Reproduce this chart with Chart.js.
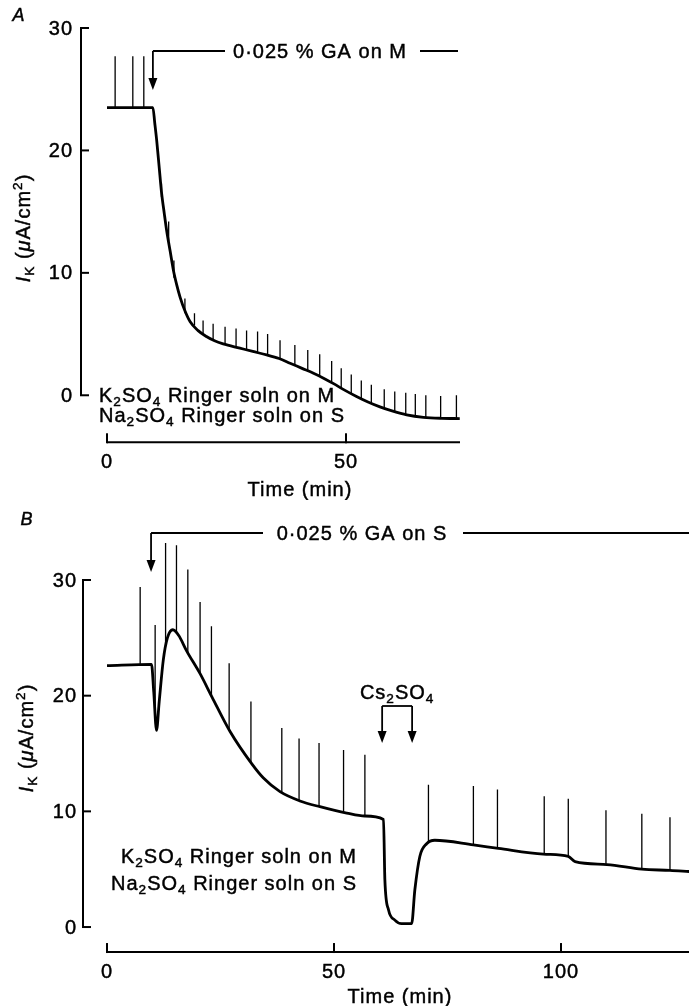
<!DOCTYPE html>
<html>
<head>
<meta charset="utf-8">
<script src="https://cdn.jsdelivr.net/npm/chart.js@4.4.1/dist/chart.umd.min.js"></script>
<style>
  html, body { margin: 0; padding: 0; background: #fff; overflow: hidden; }
  #wrap { position: relative; width: 689px; height: 1006px; }
  canvas { position: absolute; left: 0; }
  #chartA { top: 0; }
  #chartB { top: 500px; }
</style>
</head>
<body>
<div id="wrap">
  <canvas id="chartA" width="689" height="500"></canvas>
  <canvas id="chartB" width="689" height="506"></canvas>
</div>
<script>
// Panel A: GA on the mucosal side, K current trace (min, uA/cm2)
const timeA = [0, 9.6, 10.0, 10.4, 10.9, 11.4, 12.0, 12.5, 13.2, 13.9, 14.6, 15.3, 16.3, 17.4, 19.0, 20.8, 22.5, 24.3, 27.8, 30.5, 33.4, 36.0, 38.3, 40.8, 43.2, 45.3, 47.4, 49.8, 52.2, 54.6, 57.1, 59.8, 62.7, 66.2, 70.0, 73.8];
const currentA = [23.5, 23.5, 22.2, 20.8, 18.7, 16.6, 14.8, 13.4, 11.8, 10.2, 9.0, 8.0, 6.9, 6.0, 5.3, 4.8, 4.45, 4.2, 3.85, 3.58, 3.3, 3.0, 2.62, 2.2, 1.8, 1.4, 0.95, 0.4, -0.1, -0.55, -0.95, -1.3, -1.6, -1.8, -1.88, -1.9];
// pulse deflections on the trace
const spikeTimeA = [1.7, 5.4, 7.7, 11.4, 12.9, 14.0, 16.3, 18.3, 20.1, 22.2, 24.7, 27.0, 29.2, 31.5, 33.6, 36.2, 39.3, 42.0, 44.5, 47.0, 49.0, 51.1, 53.2, 55.3, 58.0, 60.2, 62.5, 64.5, 66.7, 69.8, 73.1];
const spikeTopA = [27.7, 27.7, 27.7, 17.3, 14.2, 11.0, 7.9, 6.7, 6.1, 5.85, 5.6, 5.45, 5.3, 5.2, 5.0, 4.5, 4.1, 3.7, 3.35, 2.8, 2.2, 1.7, 1.2, 0.85, 0.5, 0.3, 0.2, 0.1, 0.0, -0.05, 0.0];
const spikeBaseA = [23.5, 23.5, 23.5, 16.2, 12.6, 9.6, 6.7, 5.7, 5.0, 4.55, 4.2, 3.9, 3.7, 3.5, 3.3, 3.0, 2.5, 2.0, 1.6, 1.0, 0.55, 0.15, -0.25, -0.65, -1.1, -1.4, -1.6, -1.72, -1.8, -1.87, -1.9];
const yTicksA = [0, 10, 20, 30];
const xTicksA = [0, 50];
const gaTimeA = 9.6;

// Panel B: GA on the serosal side, Cs2SO4 pulse
const timeB = [0, 9.8, 10.3, 10.9, 11.5, 12.4, 13.3, 14.5, 15.8, 17.5, 20.5, 23.1, 27.1, 31.9, 34.4, 38.1, 42.5, 46.9, 52.8, 56.8, 60.9, 61.2, 62.0, 63.4, 64.9, 67.1, 67.8, 68.9, 70.4, 72.2, 80.7, 86.2, 96.1, 101.6, 103.1, 110.1, 117.8, 124.0, 128.2];
const currentB = [22.6, 22.7, 20.3, 17.0, 19.5, 23.1, 25.0, 25.7, 25.2, 23.9, 21.9, 19.9, 16.9, 14.1, 12.9, 11.7, 10.9, 10.4, 9.85, 9.6, 9.3, 4.1, 1.5, 0.6, 0.3, 0.3, 3.2, 6.1, 7.2, 7.5, 7.1, 6.8, 6.3, 6.1, 5.65, 5.4, 5.0, 4.9, 4.8];
const spikeTimeB = [7.3, 10.6, 12.9, 15.3, 17.8, 20.5, 23.0, 26.9, 31.7, 38.5, 42.3, 46.7, 52.1, 56.8, 70.8, 80.7, 86.0, 96.3, 101.6, 109.9, 117.8, 124.0];
const spikeTopB = [29.4, 26.1, 33.2, 33.0, 30.9, 28.1, 26.0, 22.8, 19.5, 17.2, 16.3, 15.9, 15.3, 14.9, 12.3, 12.2, 11.9, 11.3, 11.1, 10.1, 9.8, 9.5];
const spikeBaseB = [22.6, 18.8, 24.3, 25.4, 23.7, 21.9, 20.0, 17.0, 14.2, 11.6, 10.9, 10.4, 9.9, 9.6, 7.3, 7.1, 6.85, 6.3, 6.1, 5.4, 5.0, 4.9];
const yTicksB = [0, 10, 20, 30];
const xTicksB = [0, 50, 100];
const gaTimeB = 9.7;
const csTimesB = [60.6, 67.2];

const FONT = '"Liberation Sans", Arial, Helvetica, sans-serif';

// fill plus a hairline stroke, the scan's lettering is a bit heavier than regular
function txt(ctx, s, x, y) {
  ctx.fillText(s, x, y);
  ctx.lineWidth = 0.45;
  ctx.strokeText(s, x, y);
}

// draw text made of pieces: [text, kind] with kind n / i / sub / sup
function drawRich(ctx, parts, x, y, size, align) {
  const fontFor = kind => {
    const s = (kind === 'sub' || kind === 'sup') ? size * 0.68 : size;
    ctx.font = (kind === 'i' ? 'italic ' : '') + s + 'px ' + FONT;
  };
  let total = 0;
  const widths = parts.map(p => { fontFor(p[1]); const w = ctx.measureText(p[0]).width; total += w; return w; });
  let cx = align === 'center' ? x - total / 2 : align === 'right' ? x - total : x;
  ctx.textAlign = 'left';
  ctx.textBaseline = 'alphabetic';
  parts.forEach((p, i) => {
    fontFor(p[1]);
    let dy = 0;
    if (p[1] === 'sub') dy = size * 0.2;
    if (p[1] === 'sup') dy = -size * 0.38;
    txt(ctx, p[0], cx, y + dy);
    cx += widths[i];
  });
}

function arrowDown(ctx, x, y0, yTip) {
  ctx.lineWidth = 1.8;
  ctx.beginPath();
  ctx.moveTo(x, y0);
  ctx.lineTo(x, yTip - 8);
  ctx.stroke();
  ctx.beginPath();
  ctx.moveTo(x - 4.5, yTip - 12);
  ctx.lineTo(x + 4.5, yTip - 12);
  ctx.lineTo(x, yTip);
  ctx.closePath();
  ctx.fill();
}

function figurePlugin(cfg) {
  return {
    id: 'figure' + cfg.letter,
    afterDraw(chart) {
      const { ctx, chartArea, scales: { x, y } } = chart;
      ctx.save();
      ctx.fillStyle = '#000';
      ctx.strokeStyle = '#000';
      ctx.letterSpacing = '1px';

      // y axis with inward ticks
      const ax = chartArea.left;
      ctx.lineWidth = 2;
      ctx.beginPath();
      ctx.moveTo(ax, y.getPixelForValue(cfg.yTicks[cfg.yTicks.length - 1]));
      ctx.lineTo(ax, y.getPixelForValue(cfg.yTicks[0]));
      ctx.stroke();
      cfg.yTicks.forEach(v => {
        const py = y.getPixelForValue(v);
        ctx.lineWidth = 2;
        ctx.beginPath();
        ctx.moveTo(ax - 1, py);
        ctx.lineTo(ax + 8, py);
        ctx.stroke();
        ctx.font = '20px ' + FONT;
        ctx.textAlign = 'right';
        ctx.textBaseline = 'middle';
        txt(ctx, String(v), ax - cfg.tickGap, py + 1);
      });

      // detached time axis
      const xy = y.getPixelForValue(0) + cfg.xAxisDrop;
      ctx.lineWidth = 2;
      ctx.beginPath();
      ctx.moveTo(x.getPixelForValue(cfg.xTicks[0]), xy);
      ctx.lineTo(chartArea.right, xy);
      ctx.stroke();
      cfg.xTicks.forEach(v => {
        const px = x.getPixelForValue(v);
        ctx.lineWidth = 2;
        ctx.beginPath();
        ctx.moveTo(px, xy + 1);
        ctx.lineTo(px, xy - 9);
        ctx.stroke();
        ctx.font = '20px ' + FONT;
        ctx.textAlign = 'center';
        ctx.textBaseline = 'middle';
        txt(ctx, String(v), px, xy + 20);
      });
      ctx.font = '20px ' + FONT;
      ctx.textAlign = 'center';
      ctx.textBaseline = 'middle';
      txt(ctx, 'Time (min)', cfg.xTitle[0], cfg.xTitle[1]);

      // y title
      ctx.save();
      ctx.translate(cfg.yTitle[0], cfg.yTitle[1]);
      ctx.rotate(-Math.PI / 2);
      drawRich(ctx, [['I', 'i'], ['K', 'sub'], [' (', 'n'], ['\u03bc', 'i'], ['A/cm', 'n'], ['2', 'sup'], [')', 'n']], 0, 7, 20, 'center');
      ctx.restore();

      // panel letter
      ctx.font = 'italic 18px ' + FONT;
      ctx.textAlign = 'center';
      ctx.textBaseline = 'middle';
      txt(ctx, cfg.letter, cfg.letterPos[0], cfg.letterPos[1]);

      // GA application marker
      const gx = x.getPixelForValue(cfg.gaTime);
      const g = cfg.ga;
      ctx.lineWidth = 1.8;
      ctx.beginPath();
      ctx.moveTo(gx, g.y);
      ctx.lineTo(g.x1, g.y);
      ctx.moveTo(g.x2, g.y);
      ctx.lineTo(g.x3, g.y);
      ctx.stroke();
      arrowDown(ctx, gx, g.y, g.tip);
      ctx.font = '20px ' + FONT;
      ctx.textAlign = 'center';
      ctx.textBaseline = 'middle';
      txt(ctx, g.text, g.tx, g.y + 1);

      // bathing solutions
      const s = cfg.soln;
      drawRich(ctx, [['K', 'n'], ['2', 'sub'], ['SO', 'n'], ['4', 'sub'], [' Ringer soln on M', 'n']], s.x, s.y1, 20, s.align);
      drawRich(ctx, [['Na', 'n'], ['2', 'sub'], ['SO', 'n'], ['4', 'sub'], [' Ringer soln on S', 'n']], s.x, s.y2, 20, s.align);

      // Cs2SO4 bracket
      if (cfg.cs) {
        const c = cfg.cs;
        const p1 = x.getPixelForValue(c.times[0]);
        const p2 = x.getPixelForValue(c.times[1]);
        ctx.lineWidth = 1.8;
        ctx.beginPath();
        ctx.moveTo(p1, c.y);
        ctx.lineTo(p2, c.y);
        ctx.stroke();
        arrowDown(ctx, p1, c.y, c.tip);
        arrowDown(ctx, p2, c.y, c.tip);
        drawRich(ctx, [['Cs', 'n'], ['2', 'sub'], ['SO', 'n'], ['4', 'sub']], (p1 + p2) / 2, c.y - 7, 20, 'center');
      }
      ctx.restore();
    }
  };
}

function makeChart(id, cfg) {
  const curve = cfg.time.map((t, i) => ({ x: t, y: cfg.current[i] }));
  const spikes = [];
  cfg.spikeTime.forEach((t, i) => {
    spikes.push({ x: t, y: cfg.spikeBase[i] }, { x: t, y: cfg.spikeTop[i] }, { x: t, y: null });
  });
  return new Chart(document.getElementById(id), {
    type: 'line',
    data: {
      datasets: [
        { data: curve, borderColor: '#000', borderWidth: 2.8, pointRadius: 0,
          cubicInterpolationMode: 'monotone', borderJoinStyle: 'round', clip: false },
        { data: spikes, borderColor: '#000', borderWidth: 1.3, pointRadius: 0,
          tension: 0, spanGaps: false, clip: false }
      ]
    },
    options: {
      responsive: false,
      animation: false,
      events: [],
      layout: { padding: cfg.padding },
      scales: {
        x: { type: 'linear', min: cfg.xMin, max: cfg.xMax, display: false },
        y: { type: 'linear', min: cfg.yMin, max: cfg.yMax, display: false }
      },
      plugins: { legend: { display: false }, tooltip: { enabled: false } }
    },
    plugins: [figurePlugin(cfg)]
  });
}

makeChart('chartA', {
  letter: 'A', letterPos: [19, 16],
  time: timeA, current: currentA,
  spikeTime: spikeTimeA, spikeTop: spikeTopA, spikeBase: spikeBaseA,
  yTicks: yTicksA, xTicks: xTicksA, gaTime: gaTimeA,
  xMin: -5.44, xMax: 73.85, yMin: -3, yMax: 30,
  padding: { left: 81, right: 229, top: 28, bottom: 68 },
  tickGap: 8, xAxisDrop: 47,
  xTitle: [300, 490], yTitle: [23, 228],
  ga: { y: 51, tip: 90, x1: 225, x2: 420, x3: 458, tx: 320, text: '0\u00b7025 % GA on M' },
  soln: { x: 99, y1: 402, y2: 422, align: 'left' }
});

makeChart('chartB', {
  letter: 'B', letterPos: [27, 20],
  time: timeB, current: currentB,
  spikeTime: spikeTimeB, spikeTop: spikeTopB, spikeBase: spikeBaseB,
  yTicks: yTicksB, xTicks: xTicksB, gaTime: gaTimeB,
  xMin: -5.29, xMax: 128.19, yMin: -1, yMax: 30,
  padding: { left: 83, right: 0, top: 80, bottom: 67.4 },
  tickGap: 6, xAxisDrop: 25,
  xTitle: [400, 497], yTitle: [26, 238],
  ga: { y: 33, tip: 72, x1: 263, x2: 463, x3: 689, tx: 362, text: '0\u00b7025 % GA on S' },
  soln: { x: 357, y1: 363, y2: 390, align: 'right' },
  cs: { times: csTimesB, y: 206, tip: 243 }
});
</script>
</body>
</html>
